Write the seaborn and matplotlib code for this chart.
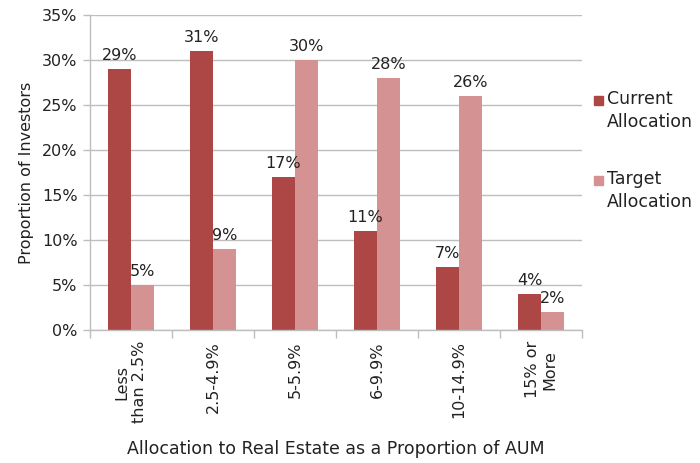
import matplotlib
matplotlib.use("Agg")
import matplotlib.pyplot as plt
import seaborn as sns
import pandas as pd
from matplotlib.patches import Rectangle
from matplotlib.ticker import FixedLocator

categories = ["Less\nthan 2.5%", "2.5-4.9%", "5-5.9%", "6-9.9%", "10-14.9%", "15% or\nMore"]
series_names = ["Current Allocation", "Target Allocation"]
legend_labels = ["Current\nAllocation", "Target\nAllocation"]
current_values = [29, 31, 17, 11, 7, 4]
target_values = [5, 9, 30, 28, 26, 2]
y_ticks = [0, 5, 10, 15, 20, 25, 30, 35]

colors = ["#AD4745", "#D49292"]
text_color = "#222222"
grid_color = "#BEBEBE"

sns.set_theme(style="white")
plt.rcParams["font.family"] = ["DejaVu Sans"]

df = pd.DataFrame({
    "Category": categories * 2,
    "Series": [series_names[0]] * len(categories) + [series_names[1]] * len(categories),
    "Value": current_values + target_values,
})

fig = plt.figure(figsize=(7.0, 4.63), dpi=100)
ax = fig.add_axes([90 / 700, 1 - 330 / 463, (582 - 90) / 700, (330 - 15) / 463])

sns.barplot(data=df, x="Category", y="Value", hue="Series", hue_order=series_names,
            palette=colors, width=0.56, gap=0, linewidth=0, saturation=1,
            legend=False, ax=ax)

# value labels above each bar
for container, vals in zip(ax.containers, [current_values, target_values]):
    ax.bar_label(container, labels=[f"{v}%" for v in vals], padding=4,
                 fontsize=11.5, color=text_color)

ax.set_ylim(0, 35)
ax.set_xlim(-0.5, len(categories) - 0.5)
ax.set_yticks(y_ticks)
ax.set_yticklabels([f"{t}%" for t in y_ticks], fontsize=11.5, color=text_color)
ax.yaxis.grid(True, color=grid_color, linewidth=1)
ax.set_axisbelow(True)

ax.set_xticks(range(len(categories)))
ax.set_xticklabels(categories, rotation=90, fontsize=11.5, color=text_color,
                   ha="center", va="top", multialignment="center")
ax.xaxis.set_minor_locator(FixedLocator([i - 0.5 for i in range(len(categories) + 1)]))
ax.tick_params(axis="x", which="major", length=0, pad=8)
ax.tick_params(axis="x", which="minor", length=6, width=1, color=grid_color, bottom=True)
ax.tick_params(axis="y", which="major", length=5, width=1, color=grid_color, left=True, pad=4)

for side in ["top", "right"]:
    ax.spines[side].set_visible(False)
for side in ["left", "bottom"]:
    ax.spines[side].set_color(grid_color)
    ax.spines[side].set_linewidth(1)

ax.set_xlabel("Allocation to Real Estate as a Proportion of AUM", fontsize=12.5,
              color=text_color, labelpad=12)
ax.set_ylabel("Proportion of Investors", fontsize=11.5, color=text_color, labelpad=6)

# legend: square swatches beside two-line labels
for (label, color, y_px) in zip(legend_labels, colors, [100, 180]):
    fig.patches.append(Rectangle((594 / 700, 1 - (y_px + 4.5) / 463), 9 / 700, 9 / 463,
                                 transform=fig.transFigure, color=color, figure=fig))
    fig.text(607 / 700, 1 - (y_px - 10) / 463, label, fontsize=12.5, color=text_color,
             ha="left", va="top", linespacing=1.35)

fig.savefig("out.png", dpi=100)
